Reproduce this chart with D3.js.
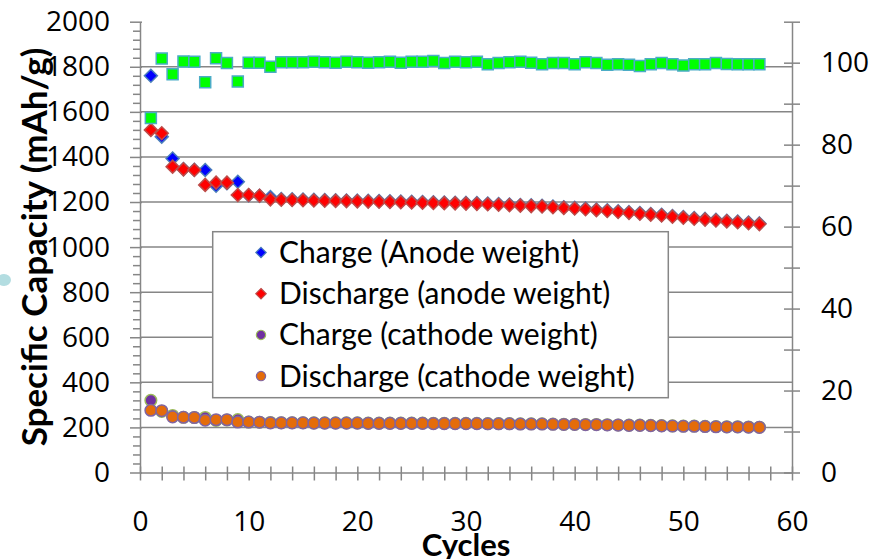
<!DOCTYPE html>
<html>
<head>
<meta charset="utf-8">
<script src="https://cdn.jsdelivr.net/npm/d3@7"></script>
<style>
  body { margin:0; background:#fff; }
  svg { display:block; font-family: Lato, "Open Sans", sans-serif; }
  .axis path, .axis line { stroke:#868686; stroke-width:1.5; }
  .axis text { font-family:"Open Sans", Lato, sans-serif; font-size:28px; fill:#000; }
  .grid line { stroke:#868686; stroke-width:1.5; }
</style>
</head>
<body>
<svg id="chart" width="873" height="559"></svg>
<script>
// --- Data ---
const cycles = d3.range(1, 58);   // cycle numbers 1..57

const chargeAnode = [1760,1490,1393,1346,1343,1342,1272,1283,1290,1230,1228,1222,1213,1212,1211,1210,1209,1208,1207,1206,
  1205,1204,1203,1202,1201,1200,1199,1198,1197,1196,1195,1193,1191,1189,1187,1185,1183,1180,1177,1174,
  1171,1167,1163,1159,1155,1151,1147,1143,1138,1133,1129,1125,1121,1117,1113,1109,1105];
const dischargeAnode = [1520,1505,1357,1345,1342,1276,1286,1286,1231,1231,1228,1212,1210,1209,1208,1207,1206,1205,1204,1203,
  1202,1201,1200,1199,1198,1197,1196,1195,1194,1193,1192,1190,1188,1186,1184,1182,1180,1177,1174,1171,
  1168,1164,1160,1156,1152,1148,1144,1140,1135,1130,1126,1122,1118,1114,1110,1106,1102];
const chargeCathode = [320,271,253,245,244,244,231,233,235,224,223,222,221,221,221,220,220,220,220,220,
  219,219,219,219,219,219,218,218,218,218,218,217,217,217,216,216,216,215,214,214,
  213,213,212,211,210,210,209,208,207,206,206,205,204,203,203,202,201];
const dischargeCathode = [276,274,247,245,244,232,234,234,224,224,223,220,220,220,220,219,219,219,219,219,
  218,218,218,218,218,218,217,217,217,217,217,216,216,216,215,215,215,214,213,213,
  212,212,211,210,209,209,208,207,206,205,205,204,203,202,202,201,200];
const efficiency = [86.5,101.0,97.2,100.3,100.2,95.2,101.1,99.9,95.4,100.0,100.0,99.0,100.1,100.1,100.1,100.2,100.1,100.0,100.2,100.1,
  100.0,100.1,100.2,100.0,100.2,100.2,100.4,99.9,100.2,100.1,100.2,99.6,99.9,100.1,100.2,100.0,99.6,99.9,99.9,99.6,
  100.1,99.9,99.5,99.6,99.5,99.2,99.6,99.9,99.6,99.3,99.6,99.6,99.9,99.7,99.6,99.6,99.6];

const xTicks = [0,10,20,30,40,50,60];
const leftTicks = [0,200,400,600,800,1000,1200,1400,1600,1800,2000];
const rightTicks = [0,20,40,60,80,100];

const series = [
  { name:"Charge (Anode weight)",     values:chargeAnode,      shape:"diamond", fill:"#0000ff", stroke:"#4a7ebb", axis:"left",  legend:true },
  { name:"Discharge (anode weight)",  values:dischargeAnode,   shape:"diamond", fill:"#ff0000", stroke:"#be4b48", axis:"left",  legend:true },
  { name:"Charge (cathode weight)",   values:chargeCathode,    shape:"circle",  fill:"#7030a0", stroke:"#9bbb59", axis:"left",  legend:true },
  { name:"Discharge (cathode weight)",values:dischargeCathode, shape:"circle",  fill:"#e46c0a", stroke:"#8064a2", axis:"left",  legend:true },
  { name:"Efficiency",                values:efficiency,       shape:"square",  fill:"#00ff00", stroke:"#4bacc6", axis:"right", legend:false }
];

// --- Scales ---
const svg = d3.select("#chart");
const X0 = 140, X1 = 792, Y0 = 472.5, Y1 = 21.7;
const x  = d3.scaleLinear().domain([0,60]).range([X0, X1]);
const yL = d3.scaleLinear().domain([0,2000]).range([Y0, Y1]);
const yR = d3.scaleLinear().domain([0,110]).range([Y0, Y1]);

// faint blob at left edge of the original image
svg.append("ellipse").attr("cx",4).attr("cy",280).attr("rx",7).attr("ry",6).attr("fill","#b3dde1");

// gridlines
svg.append("g").attr("class","grid").selectAll("line")
  .data(leftTicks.filter(v => v>0 && v<2000)).join("line")
  .attr("x1", X0).attr("x2", X1).attr("y1", d=>yL(d)).attr("y2", d=>yL(d));

// left axis: minor ticks, then major + labels
const leftMinor = d3.range(0, 2001, 40).filter(v => v % 200 !== 0);
svg.append("g").attr("class","axis").attr("transform",`translate(${X0},0)`)
  .call(d3.axisLeft(yL).tickValues(leftMinor).tickSize(7).tickFormat(""))
  .call(g => g.select(".domain").remove());

// titles go under the tick labels, the way they overlap in the original
svg.append("text").attr("transform","translate(35,247) rotate(-90)")
  .attr("text-anchor","middle").attr("dy","0.35em")
  .style("font-size","35px").style("font-weight","bold").text("Specific Capacity (mAh/g)");
svg.append("text").attr("x",466).attr("y",556).attr("text-anchor","middle")
  .style("font-size","31px").style("font-weight","bold").text("Cycles");

svg.append("g").attr("class","axis").attr("transform",`translate(${X0},0)`)
  .call(d3.axisLeft(yL).tickValues(leftTicks).tickSize(10).tickSizeOuter(0).tickPadding(20).tickFormat(d3.format("d")))
  .call(g => g.selectAll(".tick line").attr("x2",-10).attr("x1",2));

// right axis
const rightMinor = [10,30,50,70,90,110];
svg.append("g").attr("class","axis").attr("transform",`translate(${X1},0)`)
  .call(d3.axisRight(yR).tickValues(rightMinor).tickSize(8).tickFormat(""))
  .call(g => g.select(".domain").remove())
  .call(g => g.selectAll(".tick line").attr("x1",-8));
svg.append("g").attr("class","axis").attr("transform",`translate(${X1},0)`)
  .call(d3.axisRight(yR).tickValues(rightTicks).tickSize(8).tickSizeOuter(0).tickPadding(21))
  .call(g => g.selectAll(".tick line").attr("x1",-8))
  .call(g => g.selectAll(".tick text").attr("text-anchor","start"));

// bottom axis
const xMinor = d3.range(0, 61, 2).filter(v => v % 10 !== 0);
svg.append("g").attr("class","axis").attr("transform",`translate(0,${Y0})`)
  .call(d3.axisBottom(x).tickValues(xMinor).tickSize(8).tickFormat(""))
  .call(g => g.select(".domain").remove())
  .call(g => g.selectAll(".tick line").attr("y1",-6));
svg.append("g").attr("class","axis").attr("transform",`translate(0,${Y0})`)
  .call(d3.axisBottom(x).tickValues(xTicks).tickSize(8).tickSizeOuter(0))
  .call(g => g.selectAll(".tick line").attr("y1",-6))
  .call(g => g.selectAll(".tick text").attr("y",49).attr("dy","0.35em"));

// --- markers ---
function markerPath(shape){
  if (shape === "diamond") return "M0,-6.5L6.5,0L0,6.5L-6.5,0Z";
  if (shape === "square")  return "M-5.5,-5.5H5.5V5.5H-5.5Z";
  return d3.arc()({innerRadius:0, outerRadius:5.8, startAngle:0, endAngle:2*Math.PI});
}

const plot = svg.append("g");
series.forEach(s => {
  const y = s.axis === "left" ? yL : yR;
  plot.append("g").selectAll("path")
    .data(s.values.map((v,i) => ({c:cycles[i], v})))
    .join("path")
    .attr("d", markerPath(s.shape))
    .attr("transform", d => `translate(${x(d.c)},${y(d.v)})`)
    .attr("fill", s.fill).attr("stroke", s.stroke).attr("stroke-width", 1.5);
});

// --- legend ---
const leg = svg.append("g");
leg.append("rect").attr("x",212.7).attr("y",231.7).attr("width",455.6).attr("height",166)
  .attr("fill","#fff").attr("stroke","#868686").attr("stroke-width",1.5);
const legItems = leg.selectAll("g.item").data(series.filter(s => s.legend)).join("g")
  .attr("class","item")
  .attr("transform", (d,i) => `translate(261,${252.5 + i*41.2})`);
legItems.append("path").attr("d", d => markerPath(d.shape))
  .attr("transform","scale(0.8)")
  .attr("fill", d=>d.fill).attr("stroke", d=>d.stroke).attr("stroke-width",1.5);
legItems.append("text").attr("x",18).attr("dy","0.35em")
  .style("font-size","30px").text(d => d.name);
</script>
</body>
</html>
